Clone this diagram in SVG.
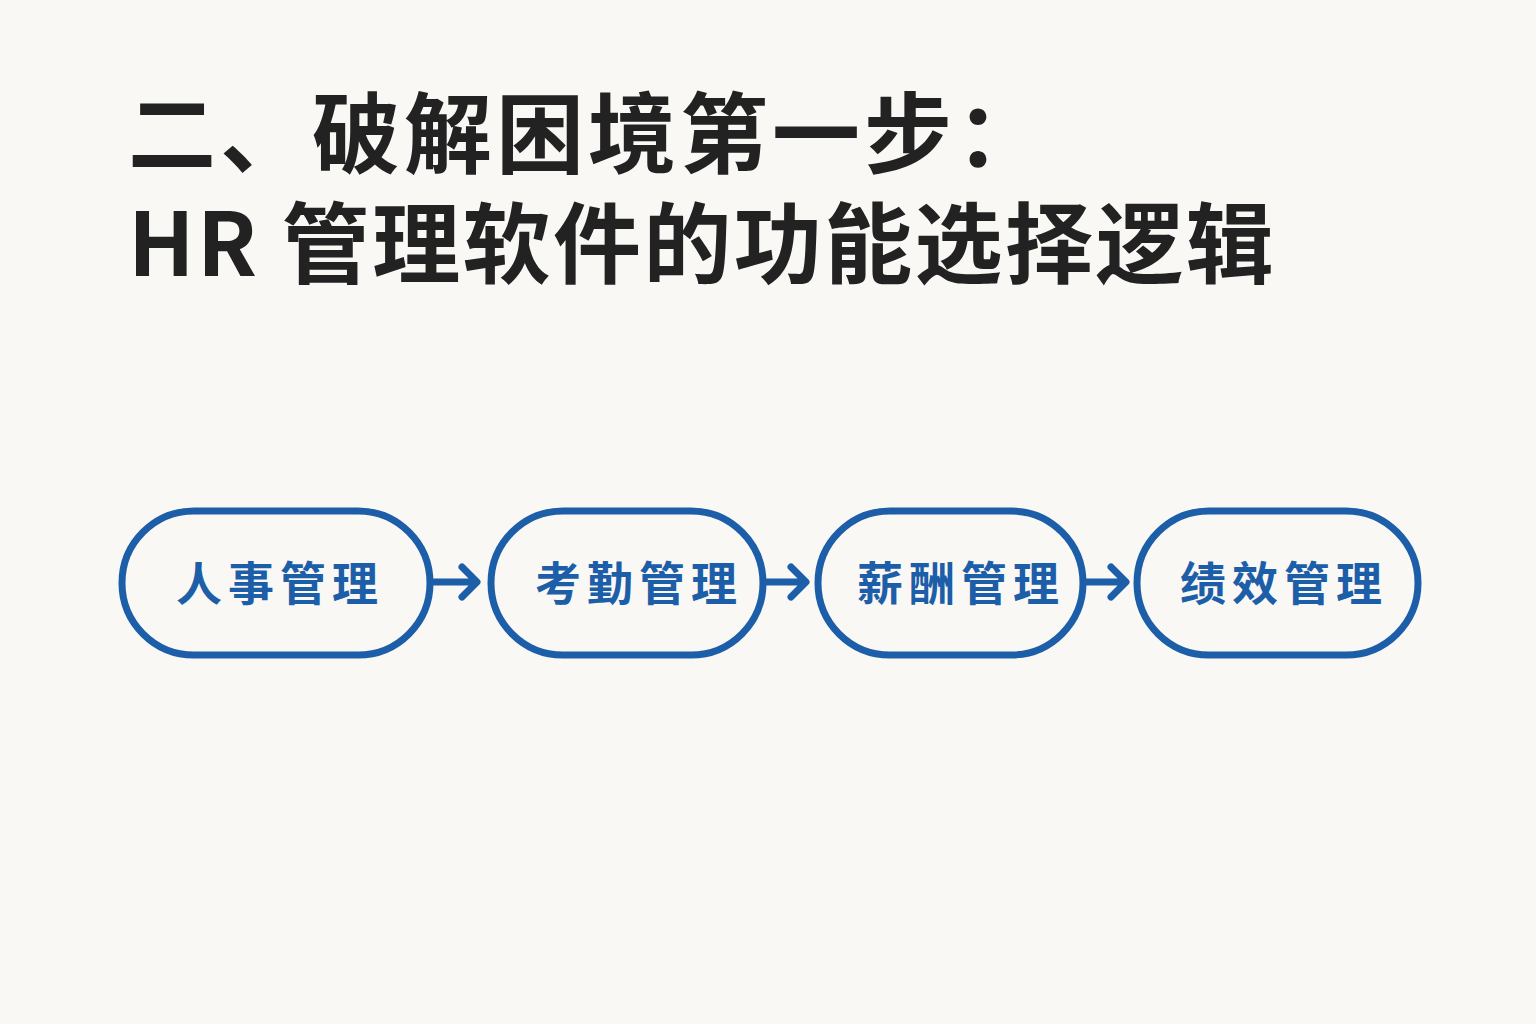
<svg xmlns="http://www.w3.org/2000/svg" width="1536" height="1024" viewBox="0 0 1536 1024">
<style>
.title{font-family:"Noto Sans CJK SC","Noto Sans",sans-serif;font-weight:700;font-size:88px;fill:#222}
.node rect{fill:none;stroke:#1d5ea8;stroke-width:7}
.node text{font-family:"Noto Sans CJK SC","Noto Sans",sans-serif;font-weight:700;font-size:46px;fill:#1d5ea8;text-anchor:middle;letter-spacing:6px}
.conn path{fill:none;stroke:#1d5ea8;stroke-width:7;stroke-linecap:round;stroke-linejoin:round}
</style>
<rect width="1536" height="1024" fill="#f9f8f5"/>
<text class="title" x="128" y="166" letter-spacing="4">二、破解困境第一步：</text>
<text class="title" x="128" y="276" letter-spacing="2.4">HR 管理软件的功能选择逻辑</text>
<g id="n1" class="node"><rect x="122" y="511" width="308" height="144" rx="72"/><text x="280" y="600">人事管理</text></g>
<g id="n2" class="node"><rect x="491" y="511" width="272" height="144" rx="72"/><text x="639" y="600">考勤管理</text></g>
<g id="n3" class="node"><rect x="818" y="511" width="265" height="144" rx="72"/><text x="961" y="600">薪酬管理</text></g>
<g id="n4" class="node"><rect x="1137" y="511" width="281" height="144" rx="72"/><text x="1284" y="600">绩效管理</text></g>
<g id="connectors" class="conn">
<path d="M432 582 H476 M462 567 L477 582 L462 597"/>
<path d="M765 582 H805 M791 567 L806 582 L791 597"/>
<path d="M1085 582 H1125 M1111 567 L1126 582 L1111 597"/>
</g>
</svg>
